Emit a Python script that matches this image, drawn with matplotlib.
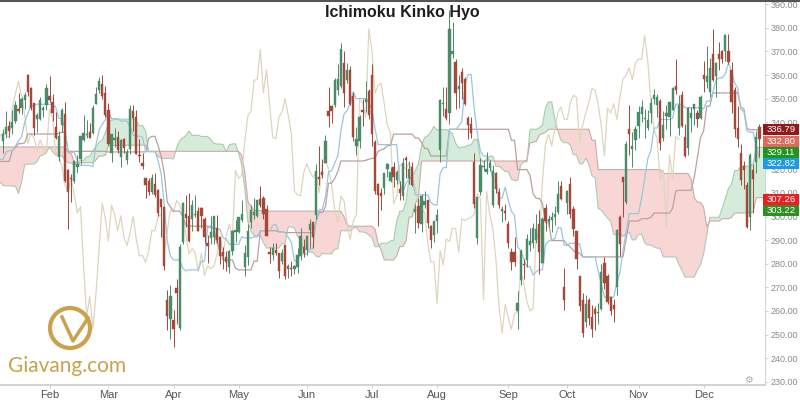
#!/usr/bin/env python3
import numpy as np
import pandas as pd
import matplotlib
matplotlib.use('Agg')
import matplotlib.pyplot as plt
from matplotlib.patches import Ellipse, Rectangle
from matplotlib.lines import Line2D
from matplotlib.transforms import blended_transform_factory
from matplotlib.ticker import FormatStrFormatter

# daily sessions, 10 Jan .. 31 Dec
opens = [
    332.2, 335.2, 338.6, 337.5, 340.5, 345.7, 346.1, 349.4, 360.0, 354.6, 348.3, 341.5, 341.4, 345.1, 347.5,
    351.0, 348.4, 337.9, 325.2, 339.0, 343.3, 319.9, 316.1, 315.0, 320.8, 324.5, 332.5, 334.5, 336.0, 335.5, 347.8, 353.5, 356.2, 352.2,
    345.0, 327.0, 332.4, 333.8, 325.4, 332.9, 324.1, 328.6, 344.9, 342.1, 326.1, 322.8, 316.5, 314.9, 310.3, 313.9, 311.3, 307.3, 304.0, 264.6, 256.5,
    256.3, 269.8, 252.8, 289.3, 301.0, 300.4, 299.0, 300.7, 302.3, 303.5, 299.0, 288.9, 291.1, 291.3, 295.0, 291.3, 285.0, 283.0, 278.8, 285.4, 293.6,
    293.6, 298.6, 278.8, 283.0, 297.5, 300.8, 300.4, 307.5, 307.7, 303.3, 285.0, 283.8, 285.9, 284.6, 281.3, 287.8, 277.8, 278.4, 277.6, 278.5, 283.3, 287.2,
    285.9, 294.3, 297.7, 300.5, 316.2, 319.0, 322.5, 344.7, 346.7, 347.2, 353.8, 355.4, 365.2, 358.0, 362.0, 351.2, 330.0, 332.2, 345.0, 348.7, 353.2,
    360.1, 331.8, 313.8, 310.2, 311.9, 320.0, 315.2, 321.1, 315.6, 311.7, 308.6, 325.0, 316.3, 321.0, 301.8, 304.4, 296.7, 304.9, 307.0, 295.9, 292.2,
    298.0, 328.4, 347.8, 345.5, 343.8, 369.1, 365.6, 354.0, 361.1, 358.4, 341.9, 339.1, 323.2, 291.0, 310.6, 320.9, 319.1, 320.7, 305.0, 318.4, 310.3, 302.3, 302.0,
    296.9, 285.1, 284.8, 260.1, 273.3, 279.5, 281.4, 288.0, 288.7, 290.0, 296.7, 280.5, 303.6, 297.7, 298.5, 300.0, 301.9, 312.9, 270.3,
    305.8, 314.0, 303.3, 294.0, 274.7, 264.5, 255.3, 264.6, 257.5, 261.0, 259.1, 260.7, 280.2, 275.0, 265.8, 262.6, 270.0, 300.0, 316.8, 306.2, 337.0, 328.5, 332.3,
    338.3, 343.3, 341.4, 337.6, 344.0, 350.0, 347.2, 349.0, 333.2, 342.7, 342.3, 345.1, 355.4, 337.5, 351.5, 333.6, 329.1, 341.6, 345.6, 343.9, 341.9,
    360.0, 356.9, 352.9, 369.0, 359.4, 369.0, 370.0, 370.3, 370.0, 362.0, 353.5, 337.6, 327.0, 321.3, 313.5, 300.0, 319.8, 323.1, 337.8,
]
highs = [
    337.0, 344.8, 340.4, 345.0, 349.0, 352.3, 350.6, 353.0, 360.5, 354.9, 348.3, 344.0, 350.6, 346.9, 356.2,
    359.7, 351.9, 344.5, 336.2, 346.0, 348.6, 320.0, 318.1, 323.8, 326.2, 334.1, 343.1, 340.8, 339.7, 347.4, 354.9, 359.0, 360.0, 355.2,
    348.3, 335.2, 337.7, 336.4, 333.0, 333.4, 328.5, 347.2, 347.2, 345.0, 332.9, 326.8, 316.5, 316.3, 318.0, 318.6, 311.6, 307.6, 304.3, 268.9, 271.0,
    260.3, 273.4, 288.4, 306.3, 309.3, 310.2, 307.1, 309.0, 304.0, 303.9, 299.7, 292.2, 300.2, 300.4, 300.5, 291.5, 287.0, 285.5, 285.8, 294.5, 298.7,
    300.0, 306.9, 288.0, 296.9, 305.0, 307.8, 307.0, 313.0, 308.9, 304.9, 287.0, 288.8, 289.0, 284.6, 286.3, 288.0, 279.9, 281.1, 279.6, 286.5, 295.0, 290.4,
    292.0, 299.0, 297.8, 322.2, 330.0, 324.5, 334.7, 355.0, 347.2, 358.8, 364.7, 373.7, 370.0, 364.9, 363.7, 352.7, 338.0, 343.0, 350.0, 357.3, 354.0,
    364.8, 332.5, 314.4, 312.0, 318.5, 322.9, 321.0, 323.2, 319.6, 315.2, 324.7, 325.5, 323.5, 323.2, 305.5, 307.7, 309.6, 310.7, 307.0, 296.4, 298.3,
    303.0, 350.0, 355.0, 355.0, 387.5, 382.6, 367.0, 360.0, 363.1, 359.0, 342.5, 342.3, 326.8, 308.5, 324.8, 323.9, 327.3, 323.9, 321.9, 318.9, 311.9, 304.6, 305.3,
    298.2, 286.8, 291.2, 268.4, 286.4, 282.0, 292.5, 295.0, 297.3, 300.9, 302.6, 300.0, 305.4, 300.6, 302.0, 304.6, 314.9, 315.0, 278.0,
    311.4, 316.8, 304.6, 294.0, 274.9, 267.8, 266.8, 265.5, 262.3, 262.0, 263.3, 279.8, 282.7, 275.6, 265.9, 265.0, 294.8, 300.5, 316.8, 332.0, 347.2, 336.0, 338.3,
    346.9, 349.2, 345.6, 345.0, 350.3, 354.0, 352.0, 349.8, 344.7, 347.1, 348.6, 355.1, 367.0, 351.4, 353.1, 339.2, 346.5, 346.5, 347.9, 345.2, 351.6,
    366.0, 372.5, 367.4, 379.5, 365.5, 374.0, 370.8, 377.4, 377.4, 365.7, 355.0, 347.0, 330.7, 323.5, 314.5, 327.0, 322.2, 336.2, 339.2,
]
lows = [
    327.0, 333.3, 333.8, 334.8, 339.7, 343.7, 343.3, 345.5, 351.0, 345.0, 334.7, 335.7, 341.0, 342.0, 345.2,
    348.6, 340.5, 333.0, 323.5, 335.7, 314.6, 294.8, 306.3, 314.3, 318.3, 322.1, 332.1, 333.3, 333.2, 334.8, 347.8, 352.2, 350.0, 342.2,
    330.4, 323.0, 329.3, 327.0, 321.0, 326.9, 322.4, 326.5, 336.2, 326.6, 323.0, 320.0, 308.0, 309.3, 309.4, 308.2, 300.4, 291.4, 277.2, 252.1, 248.2,
    244.6, 254.5, 252.0, 288.2, 295.5, 289.2, 293.7, 299.7, 293.7, 295.0, 289.0, 280.5, 288.5, 288.2, 288.6, 280.1, 277.8, 277.0, 276.0, 283.8, 289.1,
    293.0, 297.8, 275.0, 279.5, 295.2, 299.0, 300.0, 304.1, 299.1, 291.6, 280.5, 281.6, 283.9, 274.0, 280.0, 273.4, 274.0, 274.9, 275.6, 276.2, 281.6, 282.9,
    283.8, 286.5, 286.7, 299.0, 313.2, 316.2, 322.5, 338.0, 339.8, 346.6, 351.7, 354.5, 346.3, 356.8, 347.5, 332.1, 326.3, 329.0, 338.5, 344.3, 341.5,
    329.9, 309.7, 296.2, 302.8, 309.5, 316.6, 314.5, 312.6, 313.6, 306.9, 307.0, 316.3, 314.0, 312.8, 292.9, 295.1, 293.3, 303.6, 295.0, 286.5, 289.1,
    293.0, 323.2, 342.5, 341.0, 339.2, 367.1, 345.7, 346.0, 349.7, 347.1, 332.9, 333.3, 303.7, 288.2, 309.0, 319.4, 318.1, 319.4, 304.0, 310.2, 303.7, 297.7, 298.6,
    286.6, 277.2, 278.9, 252.3, 271.0, 273.6, 278.6, 285.2, 286.5, 288.6, 275.5, 280.5, 293.9, 295.4, 293.6, 296.5, 301.0, 306.9, 260.6,
    301.1, 299.2, 291.6, 277.7, 260.0, 249.0, 253.3, 254.0, 249.0, 252.0, 254.5, 260.2, 269.1, 263.1, 258.1, 255.3, 266.6, 283.4, 299.9, 305.5, 326.2, 321.1, 328.2,
    333.4, 340.1, 333.3, 336.5, 339.8, 347.8, 342.1, 328.3, 332.2, 337.2, 334.0, 345.0, 352.0, 334.4, 337.8, 325.3, 326.2, 336.0, 338.7, 338.1, 341.5,
    352.6, 354.7, 350.8, 357.4, 350.6, 362.2, 365.0, 366.0, 364.5, 343.9, 333.8, 329.5, 313.3, 311.7, 295.2, 294.1, 301.5, 318.4, 325.3,
]
closes = [
    334.80, 337.95, 336.22, 340.06, 347.16, 344.57, 350.02, 351.56, 352.79, 345.89, 337.64, 342.85, 349.53, 345.82, 354.31,
    349.25, 343.75, 333.13, 333.97, 345.00, 315.23, 310.42, 315.73, 323.66, 322.31, 334.07, 335.49, 334.77, 333.30, 346.17, 352.05, 357.42, 350.99, 343.06,
    330.93, 335.12, 333.35, 328.20, 332.30, 329.10, 327.17, 345.51, 341.84, 326.63, 325.60, 321.35, 313.56, 310.55, 316.53, 309.10, 301.54, 304.18, 279.18, 257.78, 266.13,
    252.48, 267.53, 286.94, 305.72, 299.30, 289.66, 304.70, 300.93, 294.08, 300.34, 291.21, 287.69, 293.35, 300.08, 290.24, 283.37, 283.46, 280.69, 285.48, 294.08, 293.90,
    299.92, 301.15, 284.45, 294.09, 302.77, 301.97, 306.85, 305.02, 301.06, 291.97, 284.18, 286.48, 284.54, 276.82, 284.49, 275.01, 279.07, 277.85, 278.85, 283.76, 291.72, 284.73,
    291.82, 296.74, 291.13, 319.50, 316.09, 317.66, 332.10, 342.77, 344.78, 357.72, 358.17, 370.83, 352.55, 362.22, 347.51, 333.63, 333.01, 342.00, 344.50, 349.93, 342.95,
    335.07, 310.86, 309.16, 308.90, 318.51, 322.47, 318.96, 316.71, 318.87, 310.10, 322.69, 323.85, 320.23, 313.58, 303.20, 297.43, 308.74, 306.65, 297.18, 290.17, 298.14,
    300.84, 349.54, 348.17, 341.99, 379.57, 370.34, 352.45, 355.49, 356.41, 347.64, 338.69, 335.45, 305.50, 308.44, 321.90, 321.64, 320.10, 322.82, 319.27, 311.86, 305.01, 303.15, 301.66,
    288.95, 280.74, 280.95, 263.24, 285.50, 279.44, 290.54, 289.46, 295.20, 294.84, 284.96, 299.02, 298.33, 299.10, 299.68, 300.99, 309.58, 307.52, 264.77,
    310.70, 301.02, 294.80, 281.83, 261.95, 250.56, 262.80, 256.88, 252.23, 258.78, 259.59, 276.59, 271.78, 263.91, 260.00, 260.95, 294.14, 288.50, 314.86, 330.90, 334.85, 329.90, 337.32,
    344.28, 346.41, 341.40, 341.06, 348.16, 351.40, 350.51, 331.28, 338.73, 344.00, 348.44, 354.31, 353.47, 347.49, 338.19, 325.83, 346.00, 343.92, 347.87, 341.17, 350.48,
    358.49, 359.70, 363.06, 357.97, 365.15, 366.76, 366.60, 376.79, 365.71, 348.42, 337.03, 332.97, 315.38, 319.77, 295.39, 326.09, 316.13, 333.87, 332.80,
]

# earlier sessions (Oct .. early Jan), off screen, they only feed the indicators
prior_highs = [
    348.7, 349.0, 358.6, 357.7, 357.4, 354.4, 355.7, 356.2, 357.9, 357.9, 356.6, 356.5, 360.0, 355.5, 354.2, 347.0, 342.8, 337.9, 331.9, 323.8, 322.4, 332.6,
    332.6, 308.3, 306.5, 307.5, 306.9, 305.0, 304.5, 305.0, 316.1, 316.4, 314.0, 317.0, 318.8, 315.5, 318.6, 317.4, 316.4, 317.9, 320.0, 318.0, 310.7,
    310.3, 308.3, 308.0, 313.4, 314.8, 316.8, 330.0, 344.6, 344.7, 341.0, 343.9, 346.7, 339.8, 333.0, 334.6, 330.9, 323.9, 317.5, 315.8, 316.4,
    322.1, 325.3, 318.6, 317.2, 337.0, 338.8,
]
prior_lows = [
    338.0, 336.6, 345.5, 351.0, 350.0, 342.0, 338.2, 349.5, 352.0, 352.8, 348.2, 348.4, 352.6, 345.6, 344.3, 335.7, 333.0, 323.6, 324.4, 316.0, 317.0, 320.3,
    320.3, 299.1, 299.5, 299.0, 300.1, 299.6, 299.7, 301.1, 301.0, 307.0, 304.0, 310.3, 311.3, 304.8, 311.3, 310.6, 311.0, 309.4, 313.9, 301.2, 304.5,
    305.1, 300.6, 301.0, 300.0, 309.4, 311.3, 314.8, 327.5, 336.5, 332.5, 335.7, 337.5, 329.5, 325.2, 329.0, 324.8, 316.6, 310.8, 309.5, 310.0,
    311.0, 315.6, 310.9, 312.0, 315.5, 327.4,
]

month_labels = ['Feb', 'Mar', 'Apr', 'May', 'Jun', 'Jul', 'Aug', 'Sep', 'Oct', 'Nov', 'Dec']
month_starts = [15, 34, 55, 76, 98, 119, 140, 163, 182, 205, 226]
price_ticks = list(range(230, 391, 10))

tag_values = [336.79, 332.80, 329.11, 322.82, 307.26, 303.22]
tag_colors = ['#8e1b1b', '#df6a5c', '#1f951f', '#1c9be4', '#ec1f1f', '#2f8f22']

GREEN = '#4b8b68'
RED = '#a4483a'
GOLD = '#c9a24b'
FONT = 'Liberation Sans'


def midpoint(hi, lo, period):
    return (hi.rolling(period, min_periods=1).max() + lo.rolling(period, min_periods=1).min()) / 2


def main():
    fig = plt.figure(figsize=(8, 4), dpi=100)
    ax = fig.add_axes([0.0, 15 / 400, 765 / 800, 385 / 400])

    n_prior = len(prior_highs)
    hi = pd.Series(prior_highs + highs, dtype=float)
    lo = pd.Series(prior_lows + lows, dtype=float)
    pos = np.arange(-n_prior, len(highs))

    tenkan = midpoint(hi, lo, 9)
    kijun = midpoint(hi, lo, 26)
    span_a = ((tenkan + kijun) / 2).values
    span_b = midpoint(hi, lo, 52).values
    lead = pos + 26

    # cloud
    ax.fill_between(lead, span_a, span_b, where=span_a >= span_b, interpolate=True,
                    color='#d6ecda', lw=0, zorder=1)
    ax.fill_between(lead, span_a, span_b, where=span_a < span_b, interpolate=True,
                    color='#f8d6d6', lw=0, zorder=1)
    ax.plot(lead, span_a, color='#a9ccb0', lw=0.8, zorder=2)
    ax.plot(lead, span_b, color='#cfaaa6', lw=0.8, zorder=2)

    x = np.arange(len(closes))
    ax.plot(x - 26, closes, color='#ddd6bd', lw=0.9, zorder=2)   # chikou
    ax.plot(pos, kijun, color='#b9a29e', lw=0.9, zorder=2)
    ax.plot(pos, tenkan, color='#9cc6dd', lw=0.9, zorder=2)

    # candles
    o, h, l, c = (np.array(v) for v in (opens, highs, lows, closes))
    cols = np.where(c >= o, GREEN, RED)
    ax.vlines(x, l, h, colors=cols, lw=0.7, zorder=3)
    body = np.maximum(np.abs(c - o), 0.5)
    ax.bar(x, body, bottom=np.minimum(o, c), width=0.72, color=cols,
           edgecolor=cols, lw=0.3, zorder=4)

    ax.set_xlim(-0.97, 245.8)
    ax.set_ylim(228.6, 391.8)

    for s in ('top', 'left'):
        ax.spines[s].set_visible(False)
    ax.spines['bottom'].set_color('#cfcfcf')
    ax.spines['bottom'].set_linewidth(1.3)
    ax.spines['right'].set_color('#d5d5d5')
    ax.spines['right'].set_linewidth(0.8)

    ax.yaxis.tick_right()
    ax.set_yticks(price_ticks)
    ax.yaxis.set_major_formatter(FormatStrFormatter('%.2f'))
    ax.tick_params(axis='y', length=2, width=0.6, color='#c8c8c8', labelsize=6.5,
                   labelcolor='#8a8a8a', pad=2)
    ax.set_xticks(month_starts)
    ax.set_xticklabels(month_labels)
    ax.tick_params(axis='x', length=2, width=0.6, color='#c8c8c8', labelsize=8,
                   labelcolor='#555555', pad=1.5)
    for t in ax.get_xticklabels() + ax.get_yticklabels():
        t.set_fontfamily(FONT)

    # value tags on the price scale, drawn over the tick labels
    tr = blended_transform_factory(ax.transAxes, ax.transData)
    box_w, box_h, gap = 36 / 765, 4.66, 4.8
    prev = None
    for val, col in zip(tag_values, tag_colors):
        y = val if prev is None else min(val, prev - gap)
        prev = y
        ax.add_patch(Rectangle((1 - 2 / 765, y - box_h / 2), box_w, box_h, transform=tr,
                               fc=col, ec='none', clip_on=False, zorder=10))
        ax.text(1 - 2 / 765 + box_w / 2, y, '%.2f' % val, transform=tr, ha='center',
                va='center', color='white', fontsize=6.8, family=FONT, zorder=11,
                clip_on=False)

    fig.text(0.5025, 1 - 12 / 400, 'Ichimoku Kinko Hyo', ha='center', va='center',
             fontsize=11.5, fontweight='bold', family=FONT, color='#1e1e1e')
    fig.add_artist(Line2D([0, 1], [0.998, 0.998], color='#555555', lw=1.5,
                          transform=fig.transFigure))

    # watermark
    fig.add_artist(Ellipse((70 / 800, 1 - 328 / 400), 40 / 800, 40 / 400, fill=False,
                           ec=GOLD, lw=3, transform=fig.transFigure, zorder=20))
    fig.add_artist(Line2D([62 / 800, 73 / 800, 88 / 800],
                          [1 - 317 / 400, 1 - 341 / 400, 1 - 318 / 400],
                          color=GOLD, lw=2.5, transform=fig.transFigure, zorder=20))
    fig.text(8 / 800, 1 - 372 / 400, 'Giavang.com', ha='left', va='baseline',
             fontsize=15, family='Lato', color=GOLD, zorder=20)
    fig.text(748 / 800, 1 - 380 / 400, '\u2699', ha='center', va='center',
             fontsize=7, family='DejaVu Sans', color='#aaaaaa')

    fig.savefig('out.png', dpi=100)
    plt.close('all')


if __name__ == '__main__':
    main()
